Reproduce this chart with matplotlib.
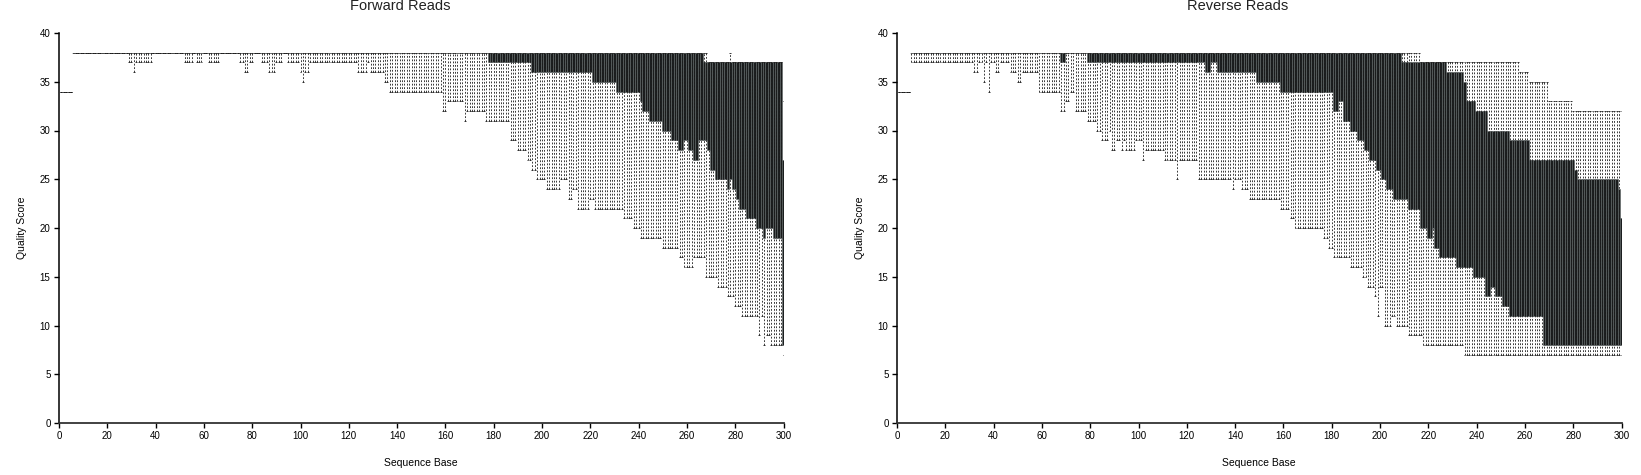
import numpy as np
import matplotlib
matplotlib.use("Agg")
import matplotlib.pyplot as plt

plt.rcParams["font.family"] = ["Liberation Sans", "DejaVu Sans"]
plt.rcParams["lines.scale_dashes"] = False

N_BASES = 300
bases = np.arange(1, N_BASES + 1)

# step lists: (first base, value) holds until the next entry
fwd_whi = [(1, 34), (6, 38), (269, 37), (278, 38), (279, 37), (300, 33)]
fwd_q75 = [(1, 34), (6, 38), (267, 37), (300, 27)]
fwd_q25 = [(1, 34), (6, 38), (178, 37), (196, 36), (221, 35), (231, 34), (241, 33),
           (242, 32), (245, 31), (250, 30), (254, 29), (257, 28), (259, 29), (261, 28),
           (263, 27), (265, 29), (269, 28), (270, 26), (272, 25), (277, 24), (278, 25),
           (279, 24), (281, 23), (282, 22), (285, 21), (289, 20), (292, 19), (293, 20),
           (296, 19), (300, 8)]
fwd_wlo = [(1, 34), (6, 38), (29, 37), (31, 36), (32, 37), (39, 38), (52, 37), (56, 38),
           (57, 37), (60, 38), (62, 37), (67, 38), (75, 37), (77, 36), (79, 37), (81, 38),
           (84, 37), (87, 36), (90, 37), (93, 38), (95, 37), (100, 36), (101, 35),
           (102, 36), (104, 37), (124, 36), (128, 37), (129, 36), (135, 35), (137, 34),
           (159, 32), (161, 33), (168, 31), (169, 32), (177, 31), (187, 29), (190, 28),
           (194, 27), (196, 26), (198, 25), (202, 24), (208, 25), (211, 23), (213, 24),
           (215, 22), (220, 23), (222, 22), (234, 21), (238, 20), (241, 19), (250, 18),
           (257, 17), (259, 16), (263, 17), (268, 15), (273, 14), (277, 13), (280, 12),
           (283, 11), (290, 9), (291, 11), (292, 8), (293, 9), (295, 8), (300, 7)]

rev_whi = [(1, 34), (6, 38), (217, 37), (258, 36), (262, 35), (270, 33), (280, 32)]
rev_q75 = [(1, 34), (6, 38), (209, 37), (228, 36), (235, 35), (236, 33), (240, 32),
           (245, 30), (254, 29), (262, 27), (281, 26), (282, 25), (299, 24), (300, 21)]
rev_q25 = [(1, 34), (6, 38), (68, 37), (70, 38), (79, 37), (128, 36), (130, 37),
           (133, 36), (149, 35), (159, 34), (181, 32), (183, 33), (185, 31), (188, 30),
           (191, 29), (194, 28), (196, 27), (199, 26), (201, 25), (203, 24), (206, 23),
           (212, 22), (217, 20), (220, 19), (222, 20), (223, 18), (225, 17), (232, 16),
           (239, 15), (244, 13), (246, 14), (248, 13), (251, 12), (254, 11), (268, 8)]
rev_wlo = [(1, 34), (6, 37), (32, 36), (34, 37), (36, 35), (37, 37), (38, 34), (39, 37),
           (41, 36), (43, 37), (47, 36), (50, 35), (52, 36), (59, 34), (68, 32), (70, 33),
           (72, 34), (74, 32), (79, 31), (83, 30), (85, 29), (88, 30), (89, 28), (91, 29),
           (93, 28), (94, 29), (95, 28), (99, 29), (102, 27), (103, 28), (111, 27),
           (116, 25), (117, 27), (125, 25), (139, 24), (140, 25), (143, 24), (146, 23),
           (159, 22), (163, 21), (165, 20), (177, 19), (179, 18), (181, 17), (188, 16),
           (193, 15), (195, 14), (198, 13), (199, 11), (200, 14), (202, 10), (205, 11),
           (207, 10), (212, 9), (218, 8), (235, 7)]

titles = ["Forward Reads", "Reverse Reads"]
x_ticks = list(range(0, 301, 20))
y_ticks = list(range(0, 41, 5))


def expand(steps, n=N_BASES):
    out = []
    for k, (start, val) in enumerate(steps):
        end = steps[k + 1][0] if k + 1 < len(steps) else n + 1
        out += [val] * (end - start)
    return np.array(out, dtype=float)


def draw(ax, whi, q75, q25, wlo):
    whi, q75, q25, wlo = expand(whi), expand(q75), expand(q25), expand(wlo)
    ax.vlines(bases, wlo, whi, colors="#1a1a1a", linestyles=(0, (1.3, 1.2)), lw=0.6)
    ax.hlines(wlo, bases - 0.4, bases + 0.4, colors="#1a1a1a", lw=0.6)
    ax.hlines(whi, bases - 0.4, bases + 0.4, colors="#1a1a1a", lw=0.6)
    ax.bar(bases, q75 - q25, bottom=q25, width=1.0, color="#1b1e1f",
           edgecolor="#5d6464", linewidth=0.4)

    ax.set_xlim(0, 300)
    ax.set_ylim(0, 40)
    ax.set_xticks(x_ticks)
    ax.set_yticks(y_ticks)
    for s in ["top", "right"]:
        ax.spines[s].set_visible(False)
    ax.spines["left"].set_linewidth(1.1)
    ax.spines["bottom"].set_linewidth(1.3)
    ax.spines["bottom"].set_color("#333333")
    ax.tick_params(direction="out", length=3.6, width=1, labelsize=7, pad=2.5)
    ax.set_xlabel("Sequence Base", fontsize=7.5, labelpad=12)
    ax.set_ylabel("Quality Score", fontsize=7.5, labelpad=9)


fig = plt.figure(figsize=(16.41, 4.75), dpi=100)
ax1 = fig.add_axes([59 / 1641, 52 / 475, 724.5 / 1641, 390 / 475])
ax2 = fig.add_axes([897 / 1641, 52 / 475, 724.5 / 1641, 390 / 475])

draw(ax1, fwd_whi, fwd_q75, fwd_q25, fwd_wlo)
draw(ax2, rev_whi, rev_q75, rev_q25, rev_wlo)

fig.text(400 / 1641, 1 - 10 / 475, titles[0], ha="center", va="baseline", fontsize=10.5,
         color="#222222")
fig.text(1238 / 1641, 1 - 10 / 475, titles[1], ha="center", va="baseline", fontsize=10.5,
         color="#222222")

fig.savefig("out.png", dpi=100)
